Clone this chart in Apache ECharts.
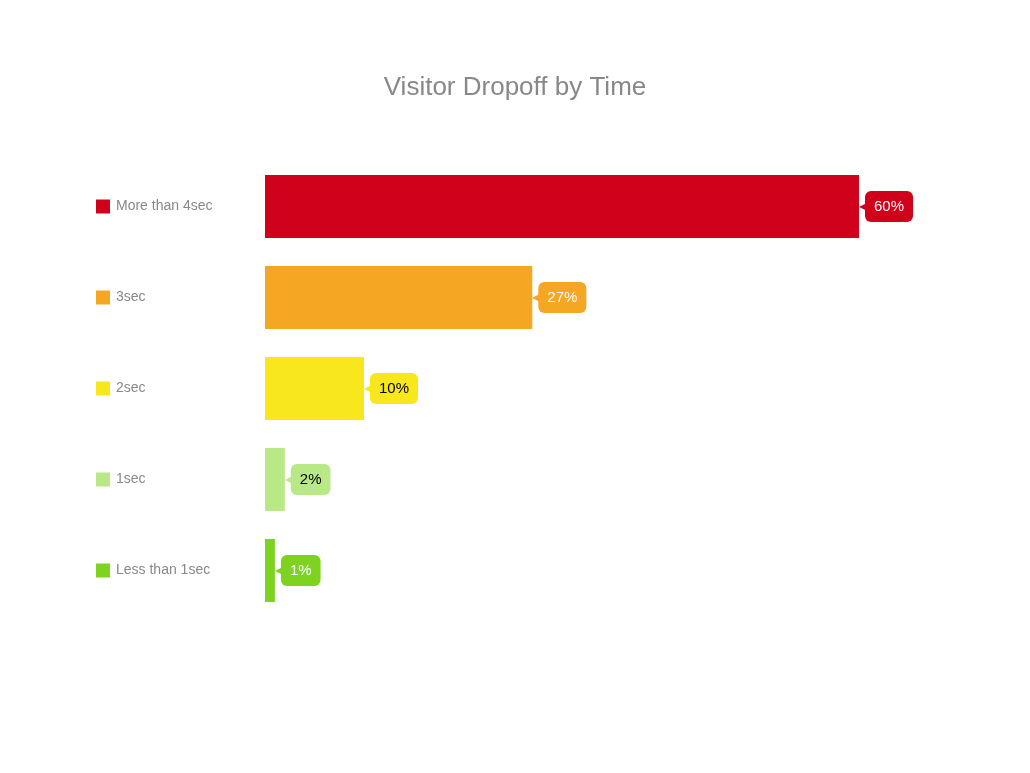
<!DOCTYPE html>
<html><head><meta charset="utf-8">
<script src="https://cdn.jsdelivr.net/npm/echarts@6/dist/echarts.min.js"></script>
<style>html,body{margin:0;background:#fff}#c{width:1030px;height:773px}</style>
</head><body><div id="c"></div>
<script>
const categories = ["More than 4sec","3sec","2sec","1sec","Less than 1sec"];
const values = [60,27,10,2,1];
const colors = ["#d0021b","#f5a623","#f8e71c","#b8e986","#7ed321"];
const labelColors = ["#fff","#fff","#000","#000","#fff"];

const rich = {};
colors.forEach((c,i)=>{
  rich['s'+i] = {backgroundColor:c, width:14, height:14};
  rich['a'+i] = {color:c, fontSize:12, padding:[0,-3,0,0]};
  rich['b'+i] = {backgroundColor:c, color:labelColors[i], fontSize:15, padding:[8,9,8,9], borderRadius:6, fontFamily:'Liberation Sans, Arial'};
});
rich.t = {color:'#888', fontSize:14, padding:[0,0,0,6], fontFamily:'Liberation Sans, Arial'};

const chart = echarts.init(document.getElementById('c'));
chart.setOption({
  animation:false,
  title:{text:'Visitor Dropoff by Time', left:'center', top:70, textStyle:{color:'#888', fontSize:26, fontWeight:'normal', fontFamily:'Liberation Sans, Arial'}},
  grid:{left:265, top:161, bottom:157, width:594},
  xAxis:{type:'value', min:0, max:60, show:false},
  yAxis:{type:'category', inverse:true, data:categories,
    axisLine:{show:false}, axisTick:{show:false},
    axisLabel:{margin:169, align:'left', rich:rich,
      formatter:(v,i)=>'{s'+i+'|}{t|'+v+'}'}},
  series:[{type:'bar', barWidth:63,
    data:values.map((v,i)=>({value:v, itemStyle:{color:colors[i]},
      label:{show:true, position:'right', distance:0,
        formatter:'{a'+i+'|◀}{b'+i+'|'+v+'%}', rich:rich}}))}]
});
</script></body></html>
